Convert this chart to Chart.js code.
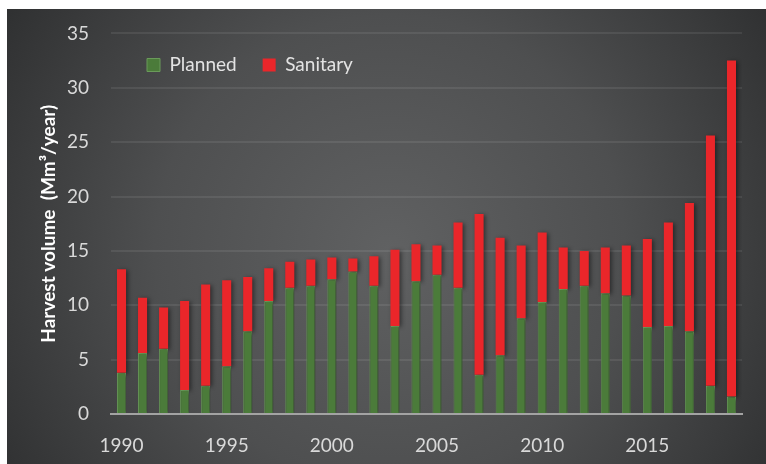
<!DOCTYPE html>
<html>
<head>
<meta charset="utf-8">
<script src="https://cdn.jsdelivr.net/npm/chart.js@4/dist/chart.umd.min.js"></script>
<style>
  html, body { margin: 0; padding: 0; background: #fff; }
  canvas { display: block; }
</style>
</head>
<body>
<canvas id="chart" width="766" height="464"></canvas>
<script>
const years = [1990, 1991, 1992, 1993, 1994, 1995, 1996, 1997, 1998, 1999,
  2000, 2001, 2002, 2003, 2004, 2005, 2006, 2007, 2008, 2009,
  2010, 2011, 2012, 2013, 2014, 2015, 2016, 2017, 2018, 2019];
// Mm3 per year
const planned = [3.8, 5.6, 6.0, 2.2, 2.6, 4.4, 7.6, 10.4, 11.6, 11.8,
  12.4, 13.1, 11.8, 8.1, 12.2, 12.8, 11.6, 3.6, 5.4, 8.8,
  10.3, 11.5, 11.8, 11.1, 10.9, 8.0, 8.1, 7.6, 2.6, 1.6];
const sanitary = [9.5, 5.1, 3.8, 8.2, 9.3, 7.9, 5.0, 3.0, 2.4, 2.4,
  2.0, 1.2, 2.7, 7.0, 3.4, 2.7, 6.0, 14.8, 10.8, 6.7,
  6.4, 3.8, 3.2, 4.2, 4.6, 8.1, 9.5, 11.8, 23.0, 30.9];
const yTicks = { min: 0, max: 35, step: 5 };

Chart.defaults.font.family = "Lato";
Chart.defaults.font.size = 19;
Chart.defaults.color = "#d9d9d9";

// dark panel with a lighter middle
const panelBg = {
  id: "panelBg",
  beforeDraw(chart) {
    const ctx = chart.ctx;
    ctx.save();
    ctx.fillStyle = "#fff";
    ctx.fillRect(0, 0, chart.width, chart.height);
    const g = ctx.createRadialGradient(390, 250, 0, 390, 250, 470);
    g.addColorStop(0, "#606162");
    g.addColorStop(0.5, "#4e4f50");
    g.addColorStop(1, "#2d2e2f");
    ctx.fillStyle = g;
    ctx.fillRect(7, 9, chart.width - 7, chart.height - 9);
    ctx.restore();
  },
};

// soft shadow behind the bars
const barShadow = {
  id: "barShadow",
  beforeDatasetsDraw(chart) {
    const ctx = chart.ctx;
    ctx.save();
    ctx.shadowColor = "rgba(0,0,0,0.45)";
    ctx.shadowBlur = 4;
    ctx.shadowOffsetX = 2;
    ctx.shadowOffsetY = 1;
  },
  afterDatasetsDraw(chart) {
    chart.ctx.restore();
  },
};

// legend sits inside the plot (top left) and takes no layout room
const legendInside = {
  id: "legendInside",
  beforeUpdate(chart) {
    const lg = chart.legend;
    if (lg && !lg._patched) {
      const fit = lg.fit;
      lg.fit = function () {
        fit.call(this);
        this.height = 0;
      };
      lg._patched = true;
    }
  },
  afterLayout(chart) {
    const lg = chart.legend;
    lg.left = 121;
    lg.right = 121 + 500;
    lg.top = 29.5;
    lg.bottom = 29.5 + 80;
    lg.width = 500;
    lg.height = 80;
  },
};

new Chart(document.getElementById("chart"), {
  type: "bar",
  data: {
    labels: years,
    datasets: [
      {
        label: "Planned",
        data: planned,
        backgroundColor: "#4b7b3a",
        borderColor: "#6a9a5a",
        borderWidth: 1,
        barPercentage: 0.43,
        categoryPercentage: 1,
      },
      {
        label: "Sanitary",
        data: sanitary,
        backgroundColor: "#ea262a",
        borderWidth: 0,
        barPercentage: 0.43,
        categoryPercentage: 1,
      },
    ],
  },
  options: {
    responsive: false,
    animation: false,
    layout: { padding: { top: 33, right: 24, left: 0, bottom: 0 } },
    plugins: {
      tooltip: { enabled: false },
      legend: {
        position: "top",
        align: "start",
        labels: {
          color: "#e3e3e3",
          boxWidth: 13,
          boxHeight: 13,
          padding: 26,
          font: { size: 19 },
        },
      },
    },
    scales: {
      x: {
        stacked: true,
        grid: { display: false },
        border: { display: true, color: "#a3a3a3", width: 2 },
        ticks: {
          autoSkip: false,
          maxRotation: 0,
          padding: 12,
          color: "#d9d9d9",
          callback: function (value) {
            const y = years[value];
            return y % 5 === 0 ? String(y) : "";
          },
        },
        afterFit(scale) {
          scale.height = 50;
        },
      },
      y: {
        stacked: true,
        min: yTicks.min,
        max: yTicks.max,
        ticks: { stepSize: yTicks.step, padding: 22, color: "#d9d9d9" },
        border: { display: false },
        grid: {
          drawTicks: false,
          lineWidth: 2,
          color: (c) => (c.tick.value === 0 ? "#a3a3a3" : "rgba(255,255,255,0.08)"),
        },
        title: {
          display: true,
          text: "Harvest volume  (Mm³/year)",
          color: "#ffffff",
          font: { size: 19, weight: "bold" },
          padding: { top: 37, bottom: 0 },
        },
        afterFit(scale) {
          scale.width = 111;
        },
      },
    },
  },
  plugins: [panelBg, barShadow, legendInside],
});
</script>
</body>
</html>
